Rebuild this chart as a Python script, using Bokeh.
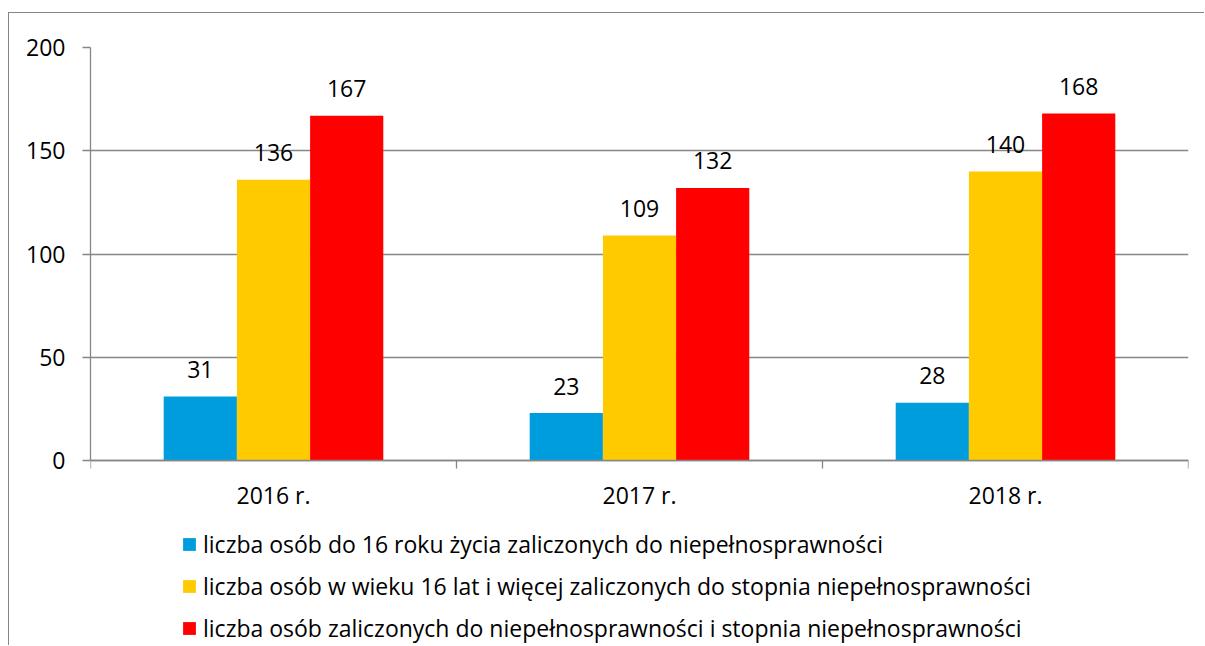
import numpy as np
from bokeh.plotting import figure
from bokeh.models import (Range1d, FixedTicker, LabelSet, ColumnDataSource,
                          Legend, LegendItem)
from bokeh.core.properties import value
from bokeh.embed import file_html
from bokeh.resources import INLINE

categories = ["2016 r.", "2017 r.", "2018 r."]
series_names = [
    "liczba osób do 16 roku życia zaliczonych do niepełnosprawności",
    "liczba osób w wieku 16 lat i więcej zaliczonych do stopnia niepełnosprawności",
    "liczba osób zaliczonych do niepełnosprawności i stopnia niepełnosprawności",
]
under16 = [31, 23, 28]
age16plus = [136, 109, 140]
total = [167, 132, 168]
series_values = [under16, age16plus, total]
colors = ["#009DDE", "#FFCB00", "#FF0000"]
y_ticks = [0, 50, 100, 150, 200]

FONT = "Open Sans"
FS = "23px"
GRAY = "#868686"

W, H = 1196, 633
TOP, LEFT, RIGHT = 34, 81, 17
AXIS_PX = 413  # pixel height of the 0..200 value band
frame_h = H - TOP
y_min = 200 - frame_h * 200 / AXIS_PX  # frame extends below 0 to hold the legend

p = figure(width=W, height=H, x_range=Range1d(0, len(categories)),
           y_range=Range1d(y_min, 200), output_backend="svg",
           toolbar_location=None, min_border_left=LEFT, min_border_right=RIGHT,
           min_border_top=TOP, min_border_bottom=0)
p.styles = {"margin-left": "8px", "margin-top": "12px",
            "border-left": "1px solid #868686", "border-top": "1px solid #868686"}
p.outline_line_color = None
p.xgrid.visible = False
p.ygrid.ticker = FixedTicker(ticks=y_ticks)
p.ygrid.grid_line_color = GRAY
p.ygrid.grid_line_width = 1.3

# y axis
ya = p.yaxis[0]
ya.ticker = FixedTicker(ticks=y_ticks)
ya.bounds = (0, 200)
ya.axis_line_color = GRAY
ya.axis_line_width = 1.3
ya.major_tick_line_color = GRAY
ya.major_tick_line_width = 1.3
ya.major_tick_out = 8
ya.major_tick_in = 0
ya.minor_tick_line_color = None
ya.major_label_text_font = FONT
ya.major_label_text_font_size = FS
ya.major_label_text_color = "black"
ya.major_label_standoff = 17

# x axis at value 0: labels at category centres, ticks at category boundaries
xa = p.xaxis[0]
xa.fixed_location = 0
centers = [i + 0.5 for i in range(len(categories))]
bounds = list(range(len(categories) + 1))
xa.ticker = FixedTicker(ticks=centers, minor_ticks=bounds)
xa.major_label_overrides = {c: lab for c, lab in zip(centers, categories)}
xa.axis_line_color = GRAY
xa.axis_line_width = 1.3
xa.major_tick_line_color = None
xa.major_tick_out = 0
xa.major_tick_in = 0
xa.minor_tick_line_color = GRAY
xa.minor_tick_line_width = 1.3
xa.minor_tick_out = 8
xa.minor_tick_in = 0
xa.major_label_text_font = FONT
xa.major_label_text_font_size = FS
xa.major_label_text_color = "black"
xa.major_label_standoff = 10

bar_w = 0.2
items = []
for j, (name, vals, col) in enumerate(zip(series_names, series_values, colors)):
    xs = np.arange(len(categories)) + 0.5 + (j - 1) * bar_w
    src = ColumnDataSource(dict(x=xs, top=vals, label=[str(v) for v in vals]))
    r = p.vbar(x="x", top="top", width=bar_w, source=src, fill_color=col,
               line_color=None)
    labels = LabelSet(x="x", y="top", text="label", source=src,
                      text_align="center", text_baseline="middle", y_offset=27,
                      text_font=value(FONT), text_font_size=value(FS),
                      text_color="black")
    p.add_layout(labels)
    items.append(LegendItem(label=name, renderers=[r]))

legend = Legend(items=items, location=(91, 2), orientation="vertical",
                border_line_color=None, background_fill_alpha=0, padding=0,
                margin=0, spacing=10, glyph_width=16, glyph_height=16,
                label_standoff=6, label_text_font=FONT, label_text_font_size=FS,
                label_text_color="black")
p.add_layout(legend, "center")

open("out.html", "w").write(file_html(p, INLINE))
